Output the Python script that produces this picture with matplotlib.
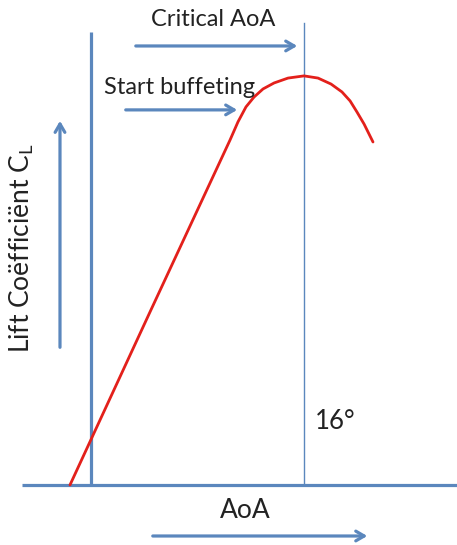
import matplotlib.pyplot as plt

# lift curve (AoA in degrees, CL)
aoa = [-1.58, 4.43, 10.44, 11.04, 11.64, 12.24, 12.92, 13.75, 14.80, 16.0,
       17.05, 18.03, 18.85, 19.46, 19.98, 20.51, 21.18]
cl = [0.0, 0.636, 1.268, 1.335, 1.390, 1.426, 1.456, 1.478, 1.496, 1.504,
      1.496, 1.474, 1.445, 1.412, 1.371, 1.327, 1.261]

critical_aoa = 16
start_line = 0
axis_label_x = "AoA"
axis_label_y = "Lift Coëfficiënt C$_\\mathregular{L}$"

blue = "#5b87bd"
red = "#e3201b"

plt.rcParams['font.family'] = ['Lato', 'DejaVu Sans']

fig = plt.figure(figsize=(4.57, 5.45), dpi=100)
ax = fig.add_axes([0, 0, 1, 1])
ax.set_xlim(-6.836, 27.49)
ax.set_ylim(-0.2206, 1.783)
ax.axis('off')

# axes lines
ax.plot([-5.18, 27.49], [0, 0], color=blue, lw=2.3, solid_capstyle='butt')
ax.plot([start_line, start_line], [0, 1.665], color=blue, lw=2.3, solid_capstyle='butt')
ax.plot([critical_aoa, critical_aoa], [0, 1.70], color=blue, lw=1.0)

# lift curve
ax.plot(aoa, cl, color=red, lw=2.0, solid_joinstyle='round', solid_capstyle='round')

arrow = dict(arrowstyle='->,head_length=0.6,head_width=0.35', color=blue, lw=2.3)
ax.annotate('', xy=(-2.33, 1.349), xytext=(-2.33, 0.496), arrowprops=arrow)
ax.annotate('', xy=(15.70, 1.614), xytext=(3.155, 1.614), arrowprops=arrow)
ax.annotate('', xy=(11.19, 1.379), xytext=(2.40, 1.379), arrowprops=arrow)
ax.annotate('', xy=(20.96, -0.1875), xytext=(4.43, -0.1875), arrowprops=arrow)

ax.text(9.16, 1.71, "Critical AoA", fontsize=17, ha='center', va='center', color='#222222')
ax.text(6.68, 1.463, "Start buffeting", fontsize=17, ha='center', va='center', color='#222222')
ax.text(18.33, 0.2316, "16°", fontsize=18.5, ha='center', va='center', color='#222222')
ax.text(11.57, -0.092, axis_label_x, fontsize=19, ha='center', va='center', color='#222222')
ax.text(-5.19, 0.871, axis_label_y, fontsize=19, ha='center', va='center', rotation=90, color='#222222')

fig.savefig("out.png", dpi=100)
